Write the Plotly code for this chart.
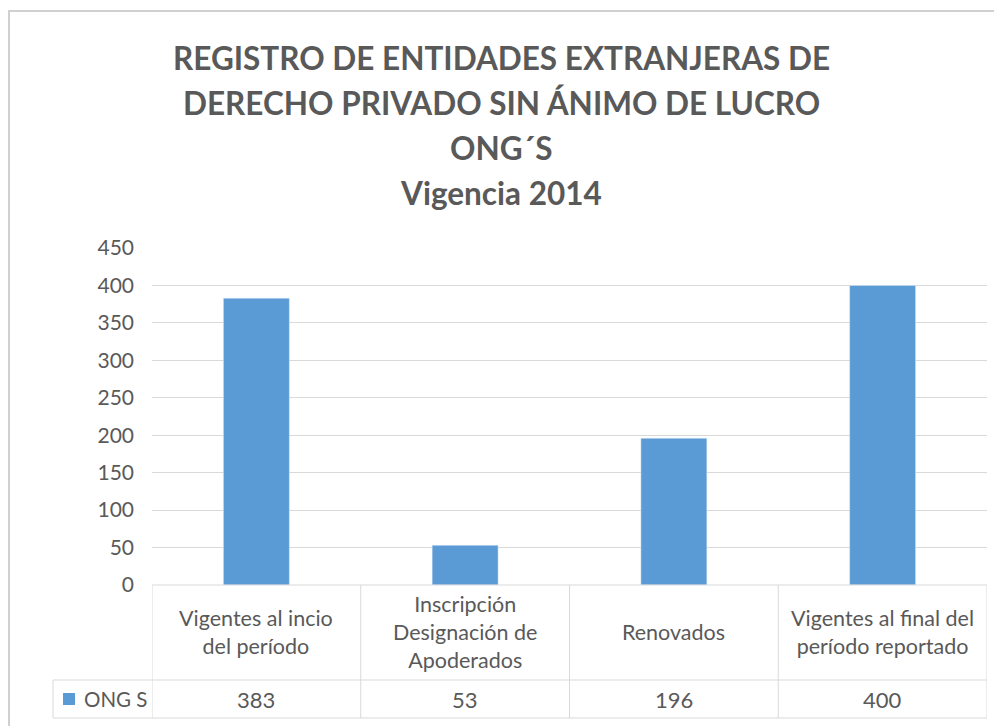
import plotly.graph_objects as go

# Data
categories = ["Vigentes al incio del período", "Inscripción Designación de Apoderados",
              "Renovados", "Vigentes al final del período reportado"]
category_labels = ["Vigentes al incio<br>del período", "Inscripción<br>Designación de<br>Apoderados",
                   "Renovados", "Vigentes al final del<br>período reportado"]
values = [383, 53, 196, 400]
series_name = "ONG S"
title_lines = ["REGISTRO DE ENTIDADES EXTRANJERAS DE", "DERECHO PRIVADO SIN ÁNIMO DE LUCRO",
               "ONG´S", "Vigencia 2014"]

BLUE = "#5b9bd5"
GREY_TXT = "#595959"
GRID = "#d9d9d9"
FONT = "Lato"

# page body has an 8px margin, so work in page pixels and shift
OFF = 8
FW, FH = 1002 - OFF, 726 - OFF

fig = go.Figure()
fig.add_trace(go.Bar(x=categories, y=values, marker_color=BLUE, name=series_name))

# plot area in page pixels: x 152..987, y 248..585
L, R, T, B = 152, 987, 248, 585
W, H = R - L, B - T


def px(x):
    return (x - L) / W


def py(y):
    return (B - y) / H


annotations = []
# title lines
for line, y in zip(title_lines, [58, 103, 148, 193]):
    annotations.append(dict(text="<b>%s</b>" % line, x=px(501), y=py(y), xref="paper", yref="paper",
                            showarrow=False, yanchor="middle",
                            font=dict(size=31.5, color=GREY_TXT, family=FONT)))

# data table: category names and values
for cat, lab, v in zip(categories, category_labels, values):
    annotations.append(dict(text=lab, x=cat, y=py(632), xref="x", yref="paper", showarrow=False,
                            yanchor="middle", font=dict(size=21.5, color=GREY_TXT, family=FONT)))
    annotations.append(dict(text=str(v), x=cat, y=py(699), xref="x", yref="paper", showarrow=False,
                            yanchor="middle", font=dict(size=22, color=GREY_TXT, family=FONT)))
annotations.append(dict(text=series_name, x=px(82), y=py(699), xref="paper", yref="paper",
                        showarrow=False, xanchor="left", yanchor="middle",
                        font=dict(size=20.5, color=GREY_TXT, family=FONT)))

line = dict(color=GRID, width=1)
shapes = [
    # outer chart frame
    dict(type="rect", xref="paper", yref="paper", x0=px(9), x1=px(1010), y0=py(11), y1=py(740),
         line=dict(color="#d0d0d0", width=2)),
    # legend key
    dict(type="rect", xref="paper", yref="paper", x0=px(63), x1=px(75), y0=py(693), y1=py(705),
         fillcolor=BLUE, line=dict(width=0)),
    # table horizontal lines
    dict(type="line", xref="paper", yref="paper", x0=0, x1=1, y0=0, y1=0, line=line),
    dict(type="line", xref="paper", yref="paper", x0=px(53), x1=1, y0=py(680), y1=py(680), line=line),
    dict(type="line", xref="paper", yref="paper", x0=px(53), x1=1, y0=py(718), y1=py(718), line=line),
    dict(type="line", xref="paper", yref="paper", x0=px(53), x1=px(53), y0=py(680), y1=py(718), line=line),
]
for i in range(len(categories) + 1):
    shapes.append(dict(type="line", xref="x", yref="paper", x0=i - 0.5, x1=i - 0.5,
                       y0=0, y1=py(718), line=line))

fig.update_layout(
    width=FW, height=FH,
    margin=dict(l=L - OFF, r=1002 - R, t=T - OFF, b=726 - B),
    paper_bgcolor="white", plot_bgcolor="white",
    showlegend=False, bargap=0.684,
    font=dict(family=FONT, color=GREY_TXT),
    annotations=annotations, shapes=shapes,
    xaxis=dict(showticklabels=False, showgrid=False, zeroline=False, showline=False,
               range=[-0.5, len(categories) - 0.5]),
    yaxis=dict(range=[0, 450], dtick=50, gridcolor=GRID, gridwidth=1, zeroline=False,
               showline=False, ticks="", ticklabelstandoff=17,
               tickfont=dict(size=21, color=GREY_TXT, family=FONT)),
)

fig.write_html("out.html")
